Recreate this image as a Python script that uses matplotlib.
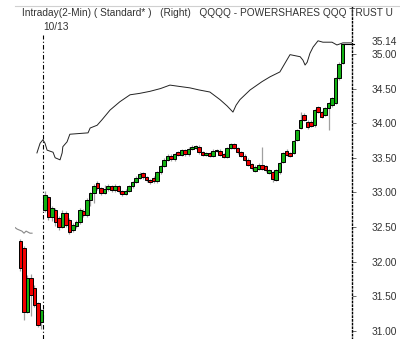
import numpy as np
import matplotlib
matplotlib.use("Agg")
from matplotlib import pyplot as plt
from matplotlib.lines import Line2D

plt.rcParams['font.family'] = ['Liberation Sans', 'DejaVu Sans']

# previous session (10/12) - last few 2-min bars
prev_open = [32.30, 32.20, 31.27, 31.76, 31.62, 31.40, 31.12]
prev_high = [32.33, 32.22, 31.80, 31.82, 31.66, 31.42, 31.32]
prev_low = [31.86, 31.16, 31.25, 31.22, 31.35, 31.06, 31.02]
prev_close = [31.90, 31.27, 31.76, 31.52, 31.37, 31.08, 31.30]

# 10/13 session
day_open = [32.75, 32.93, 32.64, 32.75, 32.63, 32.50, 32.70, 32.60, 32.46, 32.51,
            32.57, 32.73, 32.67, 32.89, 32.99, 33.14, 33.06, 32.99, 33.05, 33.09,
            33.03, 33.09, 33.02, 32.98, 33.02, 33.09, 33.15, 33.21, 33.28, 33.22,
            33.18, 33.21, 33.16, 33.29, 33.38, 33.47, 33.53, 33.48, 33.58, 33.54,
            33.61, 33.55, 33.63, 33.64, 33.66, 33.58, 33.54, 33.57, 33.53, 33.60,
            33.60, 33.55, 33.51, 33.64, 33.70, 33.64, 33.58, 33.53, 33.47, 33.41,
            33.31, 33.34, 33.40, 33.38, 33.28, 33.29, 33.18, 33.29, 33.44, 33.60,
            33.57, 33.57, 33.76, 33.93, 34.12, 34.02, 34.02, 33.97, 34.23, 34.16,
            34.12, 34.22, 34.26, 34.29, 34.65, 34.87]
day_close = [32.96, 32.64, 32.77, 32.57, 32.50, 32.70, 32.53, 32.43, 32.53, 32.57,
             32.75, 32.67, 32.89, 32.99, 33.09, 33.06, 32.99, 33.05, 33.09, 33.03,
             33.09, 33.02, 32.98, 33.02, 33.09, 33.15, 33.21, 33.27, 33.22, 33.18,
             33.15, 33.16, 33.29, 33.38, 33.47, 33.53, 33.48, 33.55, 33.54, 33.61,
             33.55, 33.63, 33.66, 33.67, 33.58, 33.54, 33.57, 33.53, 33.60, 33.61,
             33.54, 33.51, 33.64, 33.70, 33.64, 33.58, 33.53, 33.47, 33.40, 33.35,
             33.37, 33.40, 33.34, 33.32, 33.32, 33.19, 33.32, 33.42, 33.57, 33.54,
             33.53, 33.74, 33.90, 34.05, 34.05, 33.94, 33.96, 34.19, 34.16, 34.09,
             34.22, 34.29, 34.36, 34.65, 34.86, 35.14]
day_high = [33.02, 32.95, 32.80, 32.78, 32.66, 32.74, 32.73, 32.63, 32.56, 32.60,
            32.78, 32.76, 32.92, 33.01, 33.12, 33.16, 33.08, 33.10, 33.12, 33.11,
            33.12, 33.11, 33.04, 33.05, 33.11, 33.17, 33.23, 33.30, 33.30, 33.24,
            33.20, 33.23, 33.31, 33.40, 33.49, 33.55, 33.56, 33.57, 33.60, 33.63,
            33.63, 33.65, 33.68, 33.69, 33.68, 33.60, 33.59, 33.59, 33.62, 33.63,
            33.62, 33.57, 33.66, 33.72, 33.72, 33.66, 33.60, 33.55, 33.49, 33.43,
            33.39, 33.42, 33.66, 33.40, 33.34, 33.31, 33.34, 33.44, 33.59, 33.62,
            33.59, 33.76, 33.92, 34.16, 34.14, 34.04, 34.04, 34.21, 34.25, 34.18,
            34.24, 34.31, 34.38, 34.67, 34.88, 35.14]
day_low = [32.72, 32.60, 32.58, 32.52, 32.46, 32.48, 32.50, 32.40, 32.42, 32.49,
           32.55, 32.64, 32.65, 32.80, 32.85, 33.03, 32.96, 32.97, 33.02, 33.00,
           33.01, 32.99, 32.95, 32.96, 33.00, 33.07, 33.13, 33.19, 33.20, 33.15,
           33.12, 33.13, 33.14, 33.27, 33.36, 33.45, 33.46, 33.46, 33.52, 33.52,
           33.53, 33.53, 33.61, 33.62, 33.56, 33.52, 33.52, 33.51, 33.51, 33.58,
           33.52, 33.49, 33.49, 33.62, 33.62, 33.56, 33.51, 33.45, 33.38, 33.32,
           33.29, 33.32, 33.32, 33.30, 33.26, 33.15, 33.16, 33.27, 33.42, 33.52,
           33.51, 33.55, 33.74, 33.91, 34.03, 33.92, 33.94, 33.95, 34.14, 34.07,
           34.10, 33.90, 34.24, 34.27, 34.63, 34.85]

# comparison line (bar position, value)
cmp_prev_x = [-1.5, -1.0, 0.4, 1.0, 1.6, 2.7, 3.3]
cmp_prev_y = [32.49, 32.47, 32.44, 32.41, 32.44, 32.41, 32.41]
cmp_day_x = [4.7, 5.6, 6.4, 7.0, 7.6, 9.3, 9.9, 11.3, 11.9, 12.1, 13.3, 14.1,
             19.3, 19.9, 21.9, 23.3, 25.6, 28.4, 31.3, 34.0, 37.0, 40.0, 42.7,
             45.5, 48.4, 51.0, 54.1, 57.0, 59.0, 60.7, 61.6, 62.7, 65.6, 69.0,
             71.3, 74.1, 77.0, 79.9, 80.7, 81.3, 81.9, 82.7, 83.6, 85.0, 86.4,
             89.0, 90.4, 92.1, 94.7]
cmp_day_y = [33.57, 33.71, 33.76, 33.71, 33.61, 33.58, 33.50, 33.47, 33.57, 33.66,
             33.73, 33.84, 33.86, 33.93, 33.97, 34.05, 34.19, 34.31, 34.41, 34.43,
             34.46, 34.50, 34.55, 34.53, 34.51, 34.48, 34.45, 34.34, 34.25, 34.16,
             34.26, 34.34, 34.48, 34.60, 34.67, 34.74, 34.99, 34.96, 34.91, 34.84,
             34.88, 35.01, 35.10, 35.19, 35.17, 35.17, 35.13, 35.16, 35.16]

price_ticks = [31.0, 31.5, 32.0, 32.5, 33.0, 33.5, 34.0, 34.5, 35.0]
last_price = 35.14
title = "Intraday(2-Min) ( Standard* )   (Right)   QQQQ - POWERSHARES QQQ TRUST U"
session_label = "10/13"

o = np.array(prev_open + day_open)
h = np.array(prev_high + day_high)
l = np.array(prev_low + day_low)
c = np.array(prev_close + day_close)
x = np.arange(len(o))
split = len(prev_open) - 0.5

fig = plt.figure(figsize=(4.0, 3.39), dpi=100)
ax = fig.add_axes([0.0375, 0.0, 0.8425, 0.9823])

up = c >= o
colors = np.where(up, '#12b212', '#f00000')
ax.vlines(x, l, h, color='#a0a0a0', lw=0.9, zorder=2)
ax.bar(x, c - o, bottom=o, width=0.95, color=colors, edgecolor='black',
       linewidth=0.7, zorder=3)

ax.plot(cmp_prev_x, cmp_prev_y, color='#888888', lw=0.8, zorder=1)
ax.plot(cmp_day_x, cmp_day_y, color='#222222', lw=0.7, zorder=1)

ax.axvline(split, ymax=0.913, color='black', lw=0.8,
           linestyle=(0, (4, 2, 1, 2)), zorder=1)
ax.text(split, 35.39, session_label, fontsize=7.3, color='#333333',
        ha='left', va='center')

ax.plot([len(o) - 1, 95.3], [last_price, last_price], color='black', lw=0.8,
        clip_on=False, zorder=4)

ax.set_xlim(-1.57, 94.71)
ax.set_ylim(30.881, 35.693)

for s in ['left', 'top', 'bottom']:
    ax.spines[s].set_visible(False)
ax.spines['right'].set_linestyle(':')
ax.spines['right'].set_linewidth(1.0)
ax.set_xticks([])
ax.yaxis.tick_right()
ax.set_yticks(price_ticks)
ax.set_yticklabels([f"{p:.2f}" for p in price_ticks])
ax.tick_params(axis='y', length=3, width=0.6, pad=11, labelsize=7.3,
               labelcolor='#333333', color='#555555')
ax.text(1.0 + 20 / 337, last_price + 0.03, f"{last_price:.2f}",
        transform=ax.get_yaxis_transform(),
        fontsize=7.3, color='#333333', ha='left', va='center')

fig.lines.append(Line2D([15 / 400, 1.0], [1 - 6 / 339, 1 - 6 / 339],
                        transform=fig.transFigure, color='#d0d0d0', lw=0.8))
fig.text(22 / 400, 1 - 13 / 339, title, fontsize=7.3, color='#333333',
         ha='left', va='center')

plt.savefig('out.png', dpi=100)
